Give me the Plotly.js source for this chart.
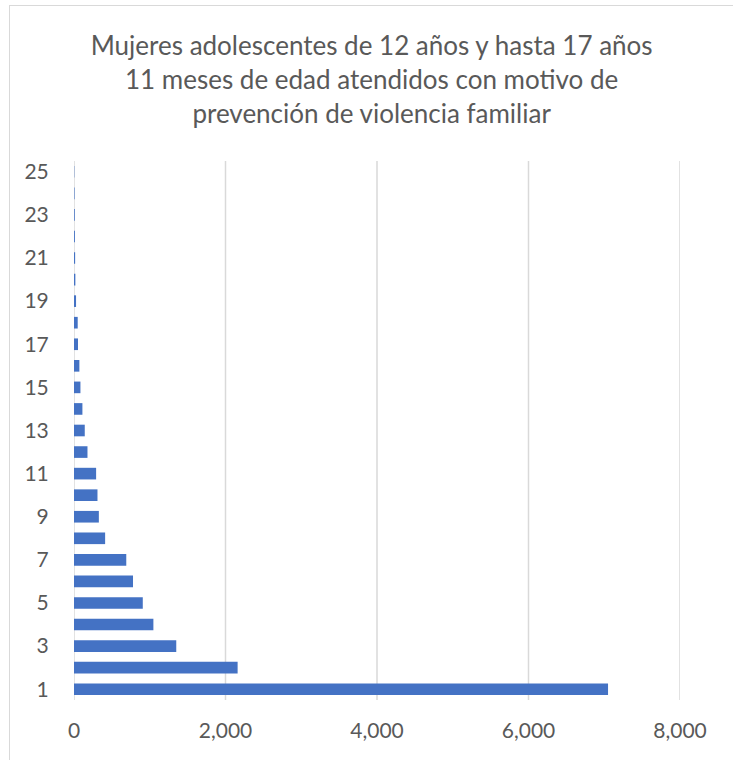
<!DOCTYPE html>
<html>
<head>
<meta charset="utf-8">
<script src="https://cdn.plot.ly/plotly-3.0.1.min.js"></script>
<style>
  html, body { margin: 0; padding: 0; background: #ffffff; }
  #frame { position: absolute; left: 9px; top: 5px; width: 760px; height: 800px;
           border-left: 1px solid #d9d9d9; border-top: 1px solid #d9d9d9; }
  #chart { position: absolute; left: 0; top: 0; width: 733px; height: 760px; }
</style>
</head>
<body>
<div id="frame"></div>
<div id="chart"></div>
<script>
const categories = [1, 2, 3, 4, 5, 6, 7, 8, 9, 10, 11, 12, 13, 14, 15, 16, 17, 18, 19, 20, 21, 22, 23, 24, 25];
const values = [7050, 2160, 1350, 1048, 908, 779, 690, 411, 328, 310, 292, 178, 142, 111, 85, 71, 53, 49, 27, 18, 15, 12, 10, 7, 4];
const xTickValues = [0, 2000, 4000, 6000, 8000];
const xTickLabels = ['0', '2,000', '4,000', '6,000', '8,000'];
const yTickValues = [1, 3, 5, 7, 9, 11, 13, 15, 17, 19, 21, 23, 25];
const yTickLabels = ['1', '3', '5', '7', '9', '11', '13', '15', '17', '19', '21', '23', '25'];
const titleText = 'Mujeres adolescentes de 12 años y hasta 17 años<br>11 meses de edad atendidos con motivo de<br>prevención de violencia familiar';

const font = 'Lato, "Open Sans", sans-serif';

const gridShapes = xTickValues.map(v => ({
  type: 'line', xref: 'x', yref: 'paper', layer: 'below',
  x0: v, x1: v, y0: 0, y1: 1,
  line: { color: '#d9d9d9', width: 1.5 }
}));

Plotly.newPlot('chart', [{
  type: 'bar',
  orientation: 'h',
  y: categories,
  x: values,
  marker: { color: '#4472C4' },
  hoverinfo: 'x+y'
}], {
  width: 733,
  height: 760,
  paper_bgcolor: 'rgba(0,0,0,0)',
  plot_bgcolor: 'rgba(0,0,0,0)',
  margin: { l: 73.5, r: 52.5, t: 161, b: 60, pad: 0 },
  bargap: 0.46,
  showlegend: false,
  font: { family: font, color: '#595959' },
  title: {
    text: titleText,
    font: { family: font, size: 26, color: '#595959' },
    x: 0.507, xanchor: 'center',
    y: 1 - 55 / 760, yanchor: 'middle'
  },
  xaxis: {
    range: [0, 8000],
    tickvals: xTickValues,
    ticktext: xTickLabels,
    showgrid: false,
    zeroline: false,
    showline: false,
    ticks: 'outside', ticklen: 12, tickcolor: 'rgba(0,0,0,0)',
    tickfont: { family: font, size: 21, color: '#595959' },
    fixedrange: true
  },
  yaxis: {
    range: [0.5, 25.5],
    tickvals: yTickValues,
    ticktext: yTickLabels,
    showgrid: false,
    zeroline: false,
    showline: false,
    ticks: 'outside', ticklen: 20, tickcolor: 'rgba(0,0,0,0)',
    tickfont: { family: font, size: 21, color: '#595959' },
    fixedrange: true
  },
  shapes: gridShapes
}, { displayModeBar: false, staticPlot: true });
</script>
</body>
</html>
